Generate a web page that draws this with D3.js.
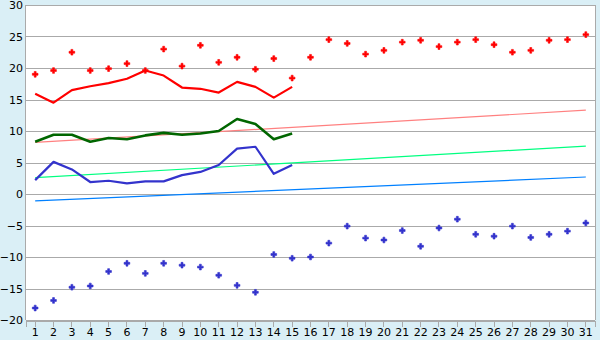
<!DOCTYPE html>
<html>
<head>
<meta charset="utf-8">
<script src="https://cdn.jsdelivr.net/npm/d3@7"></script>
<style>
  body { margin: 0; background: #daeff6; }
  svg { display: block; }
  text { font-family: "DejaVu Sans", Verdana, sans-serif; font-size: 11px; fill: #000; }
</style>
</head>
<body>
<svg id="chart" width="600" height="340"></svg>
<script>
const margin = ({top: 5, right: 5, bottom: 20, left: 26});
const width = 600, height = 340;

// days of the month
const days = d3.range(1, 32);
const yTicks = [-20, -15, -10, -5, 0, 5, 10, 15, 20, 25, 30];

// daily high / low points
const highPoints = [19.0, 19.6, 22.5, 19.6, 19.9, 20.7, 19.6, 23.0, 20.3, 23.6,
  20.9, 21.7, 19.8, 21.5, 18.4, 21.7, 24.5, 23.9, 22.2, 22.8,
  24.1, 24.4, 23.4, 24.1, 24.5, 23.7, 22.5, 22.8, 24.4, 24.5, 25.3];
const lowPoints = [-18.1, -16.9, -14.8, -14.6, -12.3, -11.0, -12.6, -11.0, -11.3, -11.6,
  -12.9, -14.5, -15.6, -9.6, -10.2, -10.0, -7.8, -5.1, -7.0, -7.3,
  -5.8, -8.3, -5.4, -4.0, -6.4, -6.7, -5.1, -6.9, -6.4, -5.9, -4.6];

// measured lines, days 1-15
const redLine = [15.9, 14.5, 16.5, 17.1, 17.6, 18.3, 19.6, 18.8, 16.9, 16.7, 16.1, 17.8, 17.0, 15.3, 17.0];
const greenLine = [8.3, 9.4, 9.4, 8.3, 8.9, 8.7, 9.3, 9.7, 9.4, 9.6, 10.0, 11.9, 11.1, 8.7, 9.6];
const blueLine = [2.2, 5.1, 3.9, 1.9, 2.1, 1.7, 2.0, 2.0, 3.0, 3.5, 4.6, 7.2, 7.5, 3.2, 4.6];

// trend lines: value at day 1 and day 31
const trendRed = [8.2, 13.3];
const trendGreen = [2.6, 7.6];
const trendBlue = [-1.1, 2.7];

const svg = d3.select("#chart");

const x = d3.scaleBand()
  .domain(days)
  .range([margin.left, width - margin.right])
  .padding(0);

const cx = d => x(d) + x.bandwidth() / 2;

const y = d3.scaleLinear()
  .domain([-20, 30])
  .range([height - margin.bottom, margin.top]);

// plot background
svg.append("rect")
  .attr("x", margin.left).attr("y", margin.top)
  .attr("width", width - margin.left - margin.right)
  .attr("height", height - margin.top - margin.bottom)
  .attr("fill", "#fff");

// gridlines
svg.append("g")
  .selectAll("line")
  .data(yTicks)
  .enter().append("line")
    .attr("x1", margin.left).attr("x2", width - margin.right)
    .attr("y1", d => Math.round(y(d)) + 0.5).attr("y2", d => Math.round(y(d)) + 0.5)
    .attr("stroke", "#aaa")
    .attr("shape-rendering", "crispEdges");

// frame
svg.append("line")
  .attr("x1", width - margin.right + 0.5).attr("x2", width - margin.right + 0.5)
  .attr("y1", margin.top).attr("y2", height - margin.bottom)
  .attr("stroke", "#aaa").attr("shape-rendering", "crispEdges");
svg.append("line")
  .attr("x1", margin.left - 0.5).attr("x2", margin.left - 0.5)
  .attr("y1", margin.top).attr("y2", height - margin.bottom)
  .attr("stroke", "#aaa").attr("shape-rendering", "crispEdges");

// axes
const yAxis = d3.axisLeft(y).tickValues(yTicks).tickSize(0).tickPadding(2)
  .tickFormat(d => String(d).replace("-", "\u2212"));
svg.append("g")
  .attr("transform", "translate(" + (margin.left - 1) + ",0)")
  .call(yAxis)
  .call(g => g.select(".domain").remove())
  .selectAll("text").attr("font-size", 11).attr("font-family", null);

const xAxis = d3.axisBottom(x).tickSize(6).tickPadding(2);
svg.append("g")
  .attr("transform", "translate(0," + (Math.round(y(-20)) + 0.5) + ")")
  .call(xAxis)
  .call(g => g.select(".domain").attr("stroke", "#aaa").attr("shape-rendering", "crispEdges"))
  .call(g => g.selectAll(".tick line").attr("stroke", "#aaa").attr("shape-rendering", "crispEdges"))
  .selectAll("text").attr("font-size", 11).attr("font-family", null);

// trend lines
const trends = [
  {vals: trendRed, color: "#ff8080"},
  {vals: trendGreen, color: "#00ff80"},
  {vals: trendBlue, color: "#0080ff"}
];
svg.append("g").selectAll("line")
  .data(trends)
  .enter().append("line")
    .attr("x1", cx(1)).attr("y1", d => y(d.vals[0]))
    .attr("x2", cx(31)).attr("y2", d => y(d.vals[1]))
    .attr("stroke", d => d.color)
    .attr("stroke-width", 1.2);

// measured lines
const line = d3.line()
  .x((d, i) => cx(days[i]))
  .y(d => y(d));

const series = [
  {vals: greenLine, color: "#006600", w: 2.6},
  {vals: redLine, color: "#ff0000", w: 2.2},
  {vals: blueLine, color: "#3333cc", w: 2.2}
];
svg.append("g").selectAll("path")
  .data(series)
  .enter().append("path")
    .attr("d", d => line(d.vals))
    .attr("fill", "none")
    .attr("stroke", d => d.color)
    .attr("stroke-width", d => d.w)
    .attr("stroke-linejoin", "round");

// point markers
const marker = d3.symbol().type(d3.symbolCross).size(18);
const points = [
  {vals: highPoints, color: "#ff0000"},
  {vals: lowPoints, color: "#3333cc"}
];
points.forEach(p => {
  svg.append("g").selectAll("path")
    .data(p.vals)
    .enter().append("path")
      .attr("d", marker)
      .attr("transform", (d, i) => "translate(" + cx(days[i]) + "," + y(d) + ")")
      .attr("fill", p.color)
      .attr("stroke", p.color)
      .attr("stroke-width", 0.6);
});
</script>
</body>
</html>
